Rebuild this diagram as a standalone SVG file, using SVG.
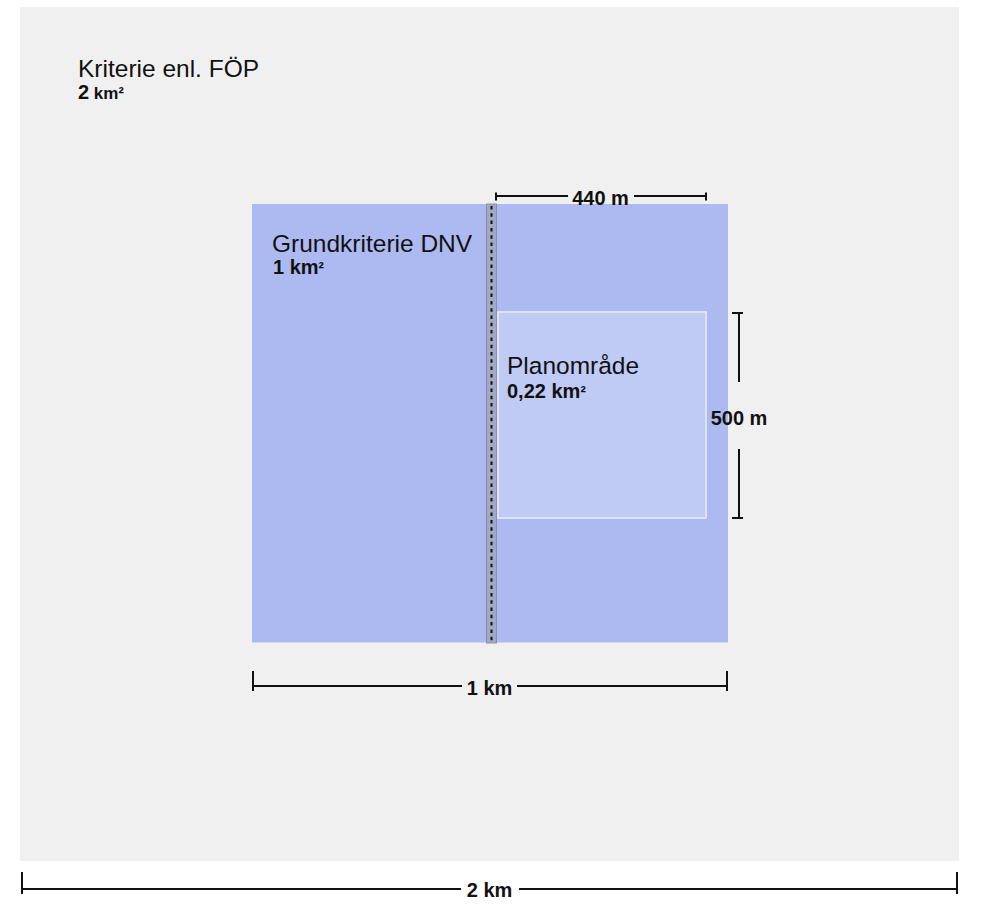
<svg xmlns="http://www.w3.org/2000/svg" width="981" height="914" viewBox="0 0 981 914">
  <style>
    .title { font-family: "Liberation Sans", Arial, sans-serif; font-size: 24.5px; fill: #111111; }
    .sub { font-family: "Liberation Sans", Arial, sans-serif; font-size: 20px; font-weight: bold; fill: #111111; }
    .sup { font-size: 16px; }
    .dim { font-family: "Liberation Sans", Arial, sans-serif; font-size: 20px; font-weight: bold; fill: #111111; text-anchor: middle; }
    .dl { stroke: #111111; stroke-width: 2; fill: none; }
  </style>
  <rect x="0" y="0" width="981" height="914" fill="#ffffff"/>

  <g id="node-foep">
    <rect x="20" y="7" width="939" height="854" fill="#f0f0f0"/>
    <text class="title" x="78" y="77">Kriterie enl. FÖP</text>
    <text class="sub" x="78" y="99">2<tspan font-size="17px"> km</tspan><tspan class="sup" font-size="14px">²</tspan></text>
  </g>

  <g id="node-dnv">
    <rect x="252" y="204" width="476" height="438.5" fill="#adbaf2"/>
    <text class="title" x="272" y="252">Grundkriterie DNV</text>
    <text class="sub" x="273" y="274">1 km<tspan class="sup">²</tspan></text>
  </g>

  <g id="node-plan">
    <rect x="498" y="312" width="208" height="206" fill="#bfcaf5" stroke="#dde3fb" stroke-width="2"/>
    <text class="title" x="507" y="374">Planområde</text>
    <text class="sub" x="507" y="398">0,22 km<tspan class="sup">²</tspan></text>
  </g>

  <g id="node-boundary">
    <rect x="486.5" y="204" width="10" height="439" fill="#a2a8c6" stroke="#8a90ab" stroke-width="1"/>
    <line x1="491.5" y1="206" x2="491.5" y2="642" stroke="#111111" stroke-width="2" stroke-dasharray="3.5 3.8"/>
  </g>

  <g id="connectors">
    <g id="dim-440">
      <path class="dl" d="M496 196 H568 M634 196 H706 M496 192.5 V200.5 M706 192.5 V200.5"/>
      <text class="dim" x="600.5" y="205">440 m</text>
    </g>
    <g id="dim-500">
      <path class="dl" d="M739 313 V382 M739 449 V518 M732 313 H743 M732 518 H743"/>
      <text class="dim" x="739" y="425">500 m</text>
    </g>
    <g id="dim-1km">
      <path class="dl" d="M253 686 H462 M517 686 H727 M253 671 V691 M727 671 V691"/>
      <text class="dim" x="489.5" y="695">1 km</text>
    </g>
    <g id="dim-2km">
      <path class="dl" d="M22 889 H461 M519 889 H957 M22 872 V894 M957 872 V894"/>
      <text class="dim" x="489.5" y="897">2 km</text>
    </g>
  </g>
</svg>
